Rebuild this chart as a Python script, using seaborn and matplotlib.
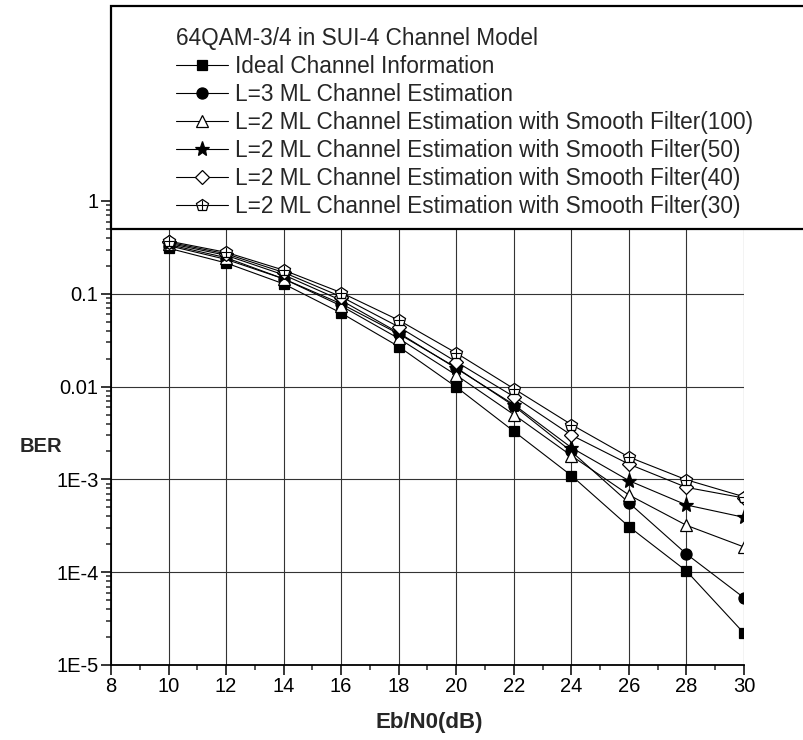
import numpy as np
import pandas as pd
import matplotlib
matplotlib.use("Agg")
import matplotlib.pyplot as plt
import seaborn as sns
from matplotlib.patches import Rectangle
from matplotlib.ticker import FixedLocator, FixedFormatter, LogLocator, NullFormatter, MultipleLocator

# Eb/N0 points (dB)
snr = [10, 12, 14, 16, 18, 20, 22, 24, 26, 28, 30]

# BER values
ber_ideal = [0.31, 0.215, 0.128, 0.062, 0.027, 0.0099, 0.0033, 0.0011, 0.00031, 0.000103, 2.2e-5]
ber_l3 = [0.33, 0.235, 0.145, 0.078, 0.037, 0.016, 0.0062, 0.0020, 0.00056, 0.000157, 5.3e-5]
ber_sf100 = [0.34, 0.245, 0.145, 0.074, 0.033, 0.0133, 0.0050, 0.0018, 0.00068, 0.00032, 0.000187]
ber_sf50 = [0.35, 0.26, 0.16, 0.085, 0.038, 0.0157, 0.0064, 0.0022, 0.00097, 0.00053, 0.00039]
ber_sf40 = [0.36, 0.27, 0.17, 0.093, 0.044, 0.0185, 0.0078, 0.0030, 0.00146, 0.00082, 0.00063]
ber_sf30 = [0.37, 0.28, 0.18, 0.103, 0.052, 0.023, 0.0095, 0.0039, 0.00174, 0.00099, 0.00065]

legend_title = "64QAM-3/4 in SUI-4 Channel Model"
labels = [
    "Ideal Channel Information",
    "L=3 ML Channel Estimation",
    "L=2 ML Channel Estimation with Smooth Filter(100)",
    "L=2 ML Channel Estimation with Smooth Filter(50)",
    "L=2 ML Channel Estimation with Smooth Filter(40)",
    "L=2 ML Channel Estimation with Smooth Filter(30)",
]
ytick_vals = [1e-5, 1e-4, 1e-3, 0.01, 0.1, 1]
ytick_text = ["1E-5", "1E-4", "1E-3", "0.01", "0.1", "1"]

sns.set_style("ticks")
plt.rcParams["font.family"] = ["Liberation Sans", "DejaVu Sans"]

fig = plt.figure(figsize=(8.04, 7.40), dpi=100)
ax = fig.add_axes([111 / 804, 75 / 740, 633 / 804, 464 / 740])

styles = [
    (ber_ideal, "s", 7, "black"),
    (ber_l3, "o", 8, "black"),
    (ber_sf100, "^", 8.5, "white"),
    (ber_sf50, "*", 11, "black"),
    (ber_sf40, "D", 7, "white"),
    (ber_sf30, "p", 9, "white"),
]

handles = []
for vals, mk, ms, fc in styles:
    sns.lineplot(x=snr, y=vals, ax=ax, color="black", lw=0.8, marker=mk,
                 markersize=ms, markerfacecolor=fc, markeredgecolor="black",
                 markeredgewidth=0.9, legend=False)
    handles.append(ax.lines[-1])

# cross inside the pentagon markers
plus, = ax.plot(snr, ber_sf30, ls="none", marker="+", markersize=7,
                markeredgewidth=0.8, color="black")
handles[-1] = (handles[-1], plus)

ax.set_yscale("log")
ax.set_xlim(8, 30)
ax.set_ylim(1e-5, 1)

ax.yaxis.set_major_locator(FixedLocator(ytick_vals))
ax.yaxis.set_major_formatter(FixedFormatter(ytick_text))
ax.yaxis.set_minor_locator(LogLocator(base=10, subs=np.arange(2, 10)))
ax.yaxis.set_minor_formatter(NullFormatter())
ax.xaxis.set_major_locator(MultipleLocator(2))
ax.xaxis.set_minor_locator(MultipleLocator(1))

ax.grid(True, which="major", color="#333333", lw=0.8)
ax.xaxis.get_major_ticks()[-1].gridline.set_visible(False)

ax.tick_params(axis="both", which="major", direction="out", length=7, width=1.1,
               labelsize=14.5, pad=2, colors="black")
ax.tick_params(axis="both", which="minor", direction="out", length=3.5, width=1.1)

for side in ["top", "right"]:
    ax.spines[side].set_visible(False)
for side in ["left", "bottom"]:
    ax.spines[side].set_linewidth(1.3)
    ax.spines[side].set_color("black")

ax.set_xlabel("Eb/N0(dB)", fontsize=16, fontweight="bold", va="center")
ax.xaxis.set_label_coords(0.502, -0.123)
ax.set_ylabel("BER", fontsize=14.5, fontweight="bold", rotation=0, ha="center", va="center")
ax.yaxis.set_label_coords(-0.111, 0.47)

# markers are cut off at the right edge of the plot in the original
cover = Rectangle((1.0, 0.004), 0.2, 1.0, transform=ax.transAxes,
                  facecolor="white", edgecolor="none", clip_on=False, zorder=2.5)
ax.add_patch(cover)

# white legend panel covering the top of the plot
panel = Rectangle((111 / 804, 1 - 229 / 740), 700 / 804, 223 / 740,
                  transform=fig.transFigure, facecolor="white",
                  edgecolor="black", lw=1.6, zorder=3)
fig.add_artist(panel)

fig.legend(handles, labels, loc="upper left",
           bbox_to_anchor=(176 / 804, 1 - 27 / 740), bbox_transform=fig.transFigure,
           frameon=False, title=legend_title, title_fontsize=16.3, fontsize=16.3,
           borderpad=0, borderaxespad=0, handlelength=2.3, handletextpad=0.3,
           labelspacing=0.22, alignment="left")

fig.savefig("out.png", dpi=100, facecolor="white")
